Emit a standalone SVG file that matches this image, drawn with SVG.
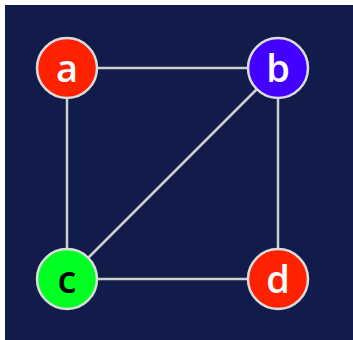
<svg xmlns="http://www.w3.org/2000/svg" width="353" height="340" viewBox="0 0 353 340">
  <style>
    .edge { stroke: #cfcfcf; stroke-width: 2.5; fill: none; }
    .node circle { stroke: #dcdcdc; stroke-width: 2.5; }
    .node text { font-family: "Open Sans", "DejaVu Sans", sans-serif; font-size: 38px; font-weight: 600; text-anchor: middle; }
  </style>
  <rect x="0" y="0" width="353" height="340" fill="#ffffff"/>
  <rect x="5" y="5" width="348" height="335" fill="#121c4a"/>
  <g id="edges">
    <line class="edge" x1="67" y1="68" x2="278" y2="68"/>
    <line class="edge" x1="67" y1="68" x2="67" y2="279"/>
    <line class="edge" x1="278" y1="68" x2="278" y2="279"/>
    <line class="edge" x1="67" y1="279" x2="278" y2="279"/>
    <line class="edge" x1="278" y1="68" x2="67" y2="279"/>
  </g>
  <g id="node-a" class="node">
    <circle cx="67" cy="68" r="30" fill="#ff2200"/>
    <text x="67" y="82" fill="#ffffff">a</text>
  </g>
  <g id="node-b" class="node">
    <circle cx="278" cy="68" r="30" fill="#4400ff"/>
    <text x="278" y="82" fill="#ffffff">b</text>
  </g>
  <g id="node-c" class="node">
    <circle cx="67" cy="279" r="30" fill="#00ff22"/>
    <text x="67" y="293" fill="#000000">c</text>
  </g>
  <g id="node-d" class="node">
    <circle cx="278" cy="279" r="30" fill="#ff2200"/>
    <text x="278" y="293" fill="#ffffff">d</text>
  </g>
</svg>
